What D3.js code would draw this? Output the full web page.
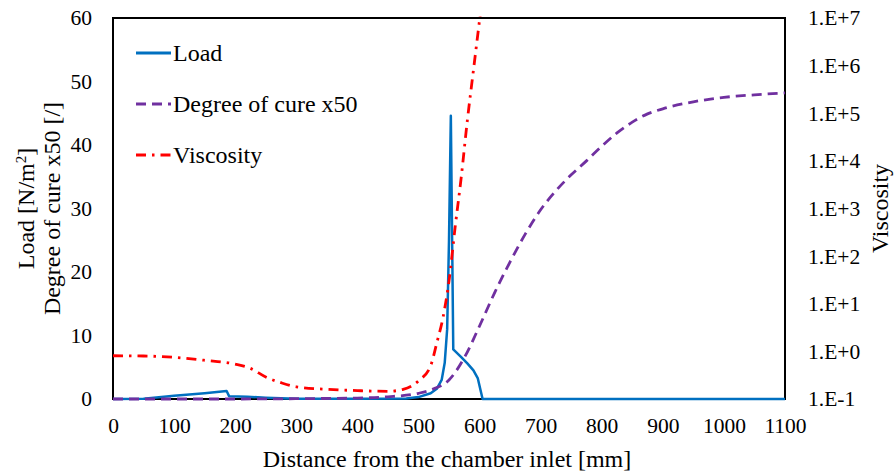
<!DOCTYPE html>
<html>
<head>
<meta charset="utf-8">
<script src="https://cdn.jsdelivr.net/npm/d3@7"></script>
<style>
  html, body { margin: 0; padding: 0; background: #fff; }
  svg { display: block; font-family: "Liberation Serif", "Times New Roman", serif; }
</style>
</head>
<body>
<svg id="chart" width="895" height="473"></svg>
<script>
// Distance along the chamber [mm] and measured/simulated quantities
const loadX = [0, 50, 100, 150, 186, 190, 220, 250, 300, 400, 480, 500, 520, 530, 538, 543, 547, 550, 553, 557, 570, 580, 590, 597, 605, 700, 800, 900, 1000, 1100];
const loadY = [0, 0.05, 0.5, 0.9, 1.25, 0.45, 0.35, 0.2, 0.05, 0.02, 0.08, 0.3, 0.9, 1.6, 3.0, 5.7, 11, 25, 44.6, 7.8, 6.6, 5.6, 4.5, 3.3, 0, 0, 0, 0, 0, 0];

const cureX = [0, 100, 200, 300, 400, 450, 500, 525, 550, 575, 600, 625, 650, 675, 700, 725, 750, 775, 800, 825, 850, 875, 900, 950, 1000, 1050, 1100];
const cureY = [0, 0, 0, 0.05, 0.15, 0.35, 0.9, 1.6, 3.0, 6.5, 11.5, 16.8, 21.6, 26, 29.8, 32.8, 35.3, 37.5, 39.8, 41.9, 43.6, 44.9, 45.7, 46.8, 47.5, 47.9, 48.2];

const viscX = [0, 50, 100, 150, 200, 225, 250, 275, 300, 350, 400, 450, 475, 500, 520, 530, 540, 550, 560, 570, 580, 590, 600, 610];
const viscY = [0.81, 0.8, 0.75, 0.65, 0.54, 0.44, 0.29, 0.22, 0.18, 0.16, 0.15, 0.145, 0.16, 0.24, 0.5, 1.5, 5, 30, 400, 4500, 7e4, 8e5, 9e6, 1e8];

const xTicks = [0, 100, 200, 300, 400, 500, 600, 700, 800, 900, 1000, 1100];
const yTicks = [0, 10, 20, 30, 40, 50, 60];
const viscTicks = [1e-1, 1e0, 1e1, 1e2, 1e3, 1e4, 1e5, 1e6, 1e7];

const seriesNames = ["Load", "Degree of cure x50", "Viscosity"];

const svg = d3.select("#chart");
const m = { left: 113, right: 785, top: 18, bottom: 399 };

const x = d3.scaleLinear().domain([0, 1100]).range([m.left, m.right]);
const y = d3.scaleLinear().domain([0, 60]).range([m.bottom, m.top]);
const yv = d3.scaleLog().domain([0.1, 1e7]).range([m.bottom, m.top]);

const TICK_FONT = 21.5;
const LABEL_FONT = 24;

// clip region for the plot area
svg.append("defs").append("clipPath").attr("id", "plotClip")
  .append("rect")
  .attr("x", m.left).attr("y", m.top - 2)
  .attr("width", m.right - m.left + 2).attr("height", m.bottom - m.top + 4);

// frame of the plot area
svg.append("rect")
  .attr("x", m.left).attr("y", m.top)
  .attr("width", m.right - m.left).attr("height", m.bottom - m.top)
  .attr("fill", "none").attr("stroke", "#000").attr("stroke-width", 2);

// axes
const xAxis = svg.append("g")
  .attr("transform", `translate(0,${m.bottom})`)
  .call(d3.axisBottom(x).tickValues(xTicks).tickSize(0).tickPadding(19).tickFormat(d3.format("d")));
const yAxis = svg.append("g")
  .attr("transform", `translate(${m.left},0)`)
  .call(d3.axisLeft(y).tickValues(yTicks).tickSize(0).tickPadding(21).tickFormat(d3.format("d")));
const fmtE = d => {
  const e = Math.round(Math.log10(d));
  return "1.E" + (e < 0 ? "-" : "+") + Math.abs(e);
};
const yvAxis = svg.append("g")
  .attr("transform", `translate(${m.right},0)`)
  .call(d3.axisRight(yv).tickValues(viscTicks).tickSize(0).tickPadding(23).tickFormat(fmtE));

[xAxis, yAxis, yvAxis].forEach(g => {
  g.select(".domain").remove();
  g.selectAll("text")
    .attr("font-family", "Liberation Serif, Times New Roman, serif")
    .attr("font-size", TICK_FONT).attr("fill", "#000");
});

// series
const plot = svg.append("g").attr("clip-path", "url(#plotClip)");

const loadData = loadX.map((d, i) => [d, loadY[i]]);
const cureData = cureX.map((d, i) => [d, cureY[i]]);
const viscData = viscX.map((d, i) => [d, viscY[i]]);

plot.append("path")
  .datum(loadData)
  .attr("fill", "none").attr("stroke", "#0070C0").attr("stroke-width", 2.5)
  .attr("stroke-linejoin", "round")
  .attr("d", d3.line().x(d => x(d[0])).y(d => y(d[1])));

plot.append("path")
  .datum(cureData)
  .attr("fill", "none").attr("stroke", "#7030A0").attr("stroke-width", 2.8)
  .attr("stroke-dasharray", "10,6")
  .attr("d", d3.line().curve(d3.curveMonotoneX).x(d => x(d[0])).y(d => y(d[1])));

plot.append("path")
  .datum(viscData)
  .attr("fill", "none").attr("stroke", "#FF0000").attr("stroke-width", 2.8)
  .attr("stroke-dasharray", "10,6,2.5,6")
  .attr("d", d3.line().curve(d3.curveMonotoneX).x(d => x(d[0])).y(d => yv(d[1])));

// legend
const legend = svg.append("g");
const legendRows = [
  { name: seriesNames[0], color: "#0070C0", dash: null, y: 53 },
  { name: seriesNames[1], color: "#7030A0", dash: "10,6", y: 104 },
  { name: seriesNames[2], color: "#FF0000", dash: "10,6,2.5,6", y: 155 }
];
legendRows.forEach(r => {
  legend.append("line")
    .attr("x1", 136).attr("x2", 171).attr("y1", r.y).attr("y2", r.y)
    .attr("stroke", r.color).attr("stroke-width", 2.8)
    .attr("stroke-dasharray", r.dash);
  legend.append("text")
    .attr("x", 173).attr("y", r.y).attr("dy", "0.35em")
    .attr("font-size", LABEL_FONT).attr("fill", "#000")
    .text(r.name);
});

// axis titles
svg.append("text")
  .attr("transform", `translate(26,${(m.top + m.bottom) / 2}) rotate(-90)`)
  .attr("text-anchor", "middle").attr("dy", "0.35em")
  .attr("font-size", LABEL_FONT).attr("fill", "#000")
  .html('Load [N/m<tspan baseline-shift="super" font-size="15">2</tspan>]');
svg.append("text")
  .attr("transform", `translate(52,${(m.top + m.bottom) / 2}) rotate(-90)`)
  .attr("text-anchor", "middle").attr("dy", "0.35em")
  .attr("font-size", LABEL_FONT).attr("fill", "#000")
  .text("Degree of cure x50 [/]");
svg.append("text")
  .attr("transform", `translate(880,${(m.top + m.bottom) / 2}) rotate(-90)`)
  .attr("text-anchor", "middle").attr("dy", "0.35em")
  .attr("font-size", LABEL_FONT).attr("fill", "#000")
  .text("Viscosity");
svg.append("text")
  .attr("x", (m.left + m.right) / 2 - 2).attr("y", 467)
  .attr("text-anchor", "middle")
  .attr("font-size", LABEL_FONT).attr("fill", "#000")
  .text("Distance from the chamber inlet [mm]");
</script>
</body>
</html>
